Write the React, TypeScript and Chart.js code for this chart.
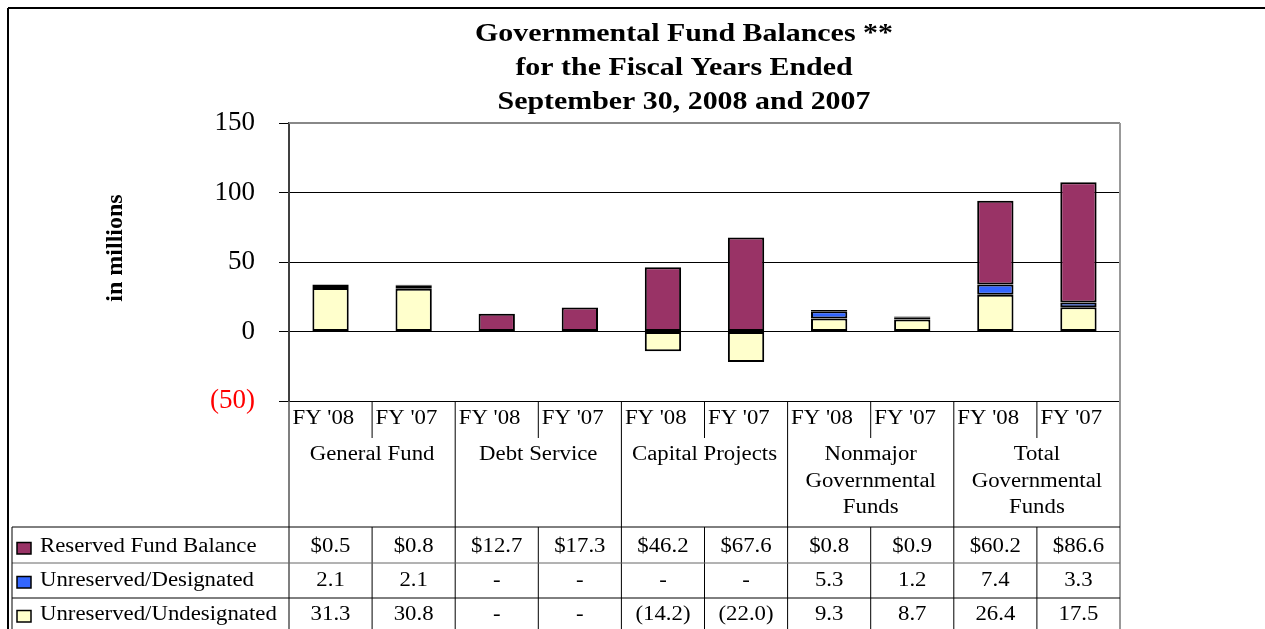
import React, { useEffect, useRef } from "react";
import { Chart, registerables } from "chart.js";

Chart.register(...registerables);

const TITLE_LINES = [
  "Governmental Fund Balances **",
  "for the Fiscal Years Ended",
  "September 30, 2008 and 2007",
];
const Y_TITLE = "in millions";
const YEARS = ["FY '08", "FY '07", "FY '08", "FY '07", "FY '08", "FY '07", "FY '08", "FY '07", "FY '08", "FY '07"];
const GROUPS = [
  ["General Fund"],
  ["Debt Service"],
  ["Capital Projects"],
  ["Nonmajor", "Governmental", "Funds"],
  ["Total", "Governmental", "Funds"],
];
const SERIES_NAMES = ["Reserved Fund Balance", "Unreserved/Designated", "Unreserved/Undesignated"];
const RESERVED = [0.5, 0.8, 12.7, 17.3, 46.2, 67.6, 0.8, 0.9, 60.2, 86.6];
const DESIGNATED = [2.1, 2.1, null, null, null, null, 5.3, 1.2, 7.4, 3.3];
const UNDESIGNATED = [31.3, 30.8, null, null, -14.2, -22.0, 9.3, 8.7, 26.4, 17.5];
const Y_MIN = -50;
const Y_MAX = 150;
const Y_STEP = 50;

const COLORS = ["#993366", "#3366FF", "#FFFFCC"];
const SERIF = '"Liberation Serif", "Times New Roman", serif';

function fmt(v: number | null, dollar: boolean): string {
  if (v === null || v === undefined) return "-";
  if (v < 0) return "(" + Math.abs(v).toFixed(1) + ")";
  return (dollar ? "$" : "") + v.toFixed(1);
}

function txt(
  ctx: CanvasRenderingContext2D,
  s: string,
  x: number,
  y: number,
  font: string,
  align: CanvasTextAlign,
  color = "#000",
  sx = 1.14
) {
  ctx.save();
  ctx.font = font;
  ctx.fillStyle = color;
  ctx.textAlign = align;
  ctx.textBaseline = "alphabetic";
  ctx.translate(x, y);
  ctx.scale(sx, 1);
  ctx.fillText(s, 0, 0);
  ctx.restore();
}

function line(ctx: CanvasRenderingContext2D, x1: number, y1: number, x2: number, y2: number, color = "#000", w = 1) {
  ctx.save();
  ctx.strokeStyle = color;
  ctx.lineWidth = w;
  ctx.beginPath();
  ctx.moveTo(x1, y1);
  ctx.lineTo(x2, y2);
  ctx.stroke();
  ctx.restore();
}

const decorPlugin = {
  id: "decor",
  beforeDraw(chart: any) {
    const ctx = chart.ctx as CanvasRenderingContext2D;
    ctx.save();
    ctx.fillStyle = "#fff";
    ctx.fillRect(0, 0, chart.width, chart.height);
    ctx.restore();
  },
  afterDraw(chart: any) {
    const ctx = chart.ctx as CanvasRenderingContext2D;
    const ca = chart.chartArea;
    const n = YEARS.length;
    const cw = (ca.right - ca.left) / n;
    const colX = (i: number) => ca.left + i * cw;
    const H = chart.height;

    // outer border
    line(ctx, 8, 8, chart.width, 8, "#000", 2);
    line(ctx, 8, 8, 8, H, "#000", 2);

    // title
    const tBase = [41, 75, 109];
    TITLE_LINES.forEach((s, i) => txt(ctx, s, 684, tBase[i], "bold 26px " + SERIF, "center", "#000", 1.15));

    // y title
    ctx.save();
    ctx.translate(122, 248);
    ctx.rotate(-Math.PI / 2);
    ctx.font = "bold 24px " + SERIF;
    ctx.fillStyle = "#000";
    ctx.textAlign = "center";
    ctx.textBaseline = "alphabetic";
    ctx.fillText(Y_TITLE, 0, 0);
    ctx.restore();

    // plot frame
    line(ctx, ca.left, ca.top, ca.right, ca.top, "#888", 2);
    line(ctx, ca.right, ca.top, ca.right, H, "#999", 2);

    const tableTop = 527;
    const rowLines = [527, 563, 598];
    const baselines = [552, 586, 620];

    // category area lines
    line(ctx, ca.left, ca.bottom, ca.left, H, "#555", 1.5);
    for (let k = 1; k < GROUPS.length; k++) {
      line(ctx, colX(2 * k), ca.bottom, colX(2 * k), H, "#000", 1);
    }
    for (let k = 0; k < GROUPS.length; k++) {
      const x = colX(2 * k + 1);
      line(ctx, x, ca.bottom, x, ca.bottom + 37, "#000", 1);
      line(ctx, x, tableTop, x, H, "#000", 1);
    }
    // table lines
    rowLines.forEach((y, i) => line(ctx, 12, y, ca.right, y, i === 1 ? "#666" : "#000", 1));
    line(ctx, 12, tableTop, 12, H, "#000", 1);

    // FY labels
    const f20 = "20px " + SERIF;
    YEARS.forEach((s, i) => txt(ctx, s, colX(i) + 3.5, 424, f20, "left"));
    // group labels
    GROUPS.forEach((g, k) => {
      const cx = colX(2 * k) + cw;
      g.forEach((s, j) => txt(ctx, s, cx, 460 + j * 26.5, f20, "center"));
    });

    // table rows
    const rows = [RESERVED, DESIGNATED, UNDESIGNATED];
    rows.forEach((vals, r) => {
      const b = baselines[r];
      ctx.save();
      ctx.fillStyle = COLORS[r];
      ctx.fillRect(17, b - 9.5, 14, 11.5);
      ctx.strokeStyle = "#000";
      ctx.lineWidth = 1.5;
      ctx.strokeRect(17, b - 9.5, 14, 11.5);
      ctx.restore();
      txt(ctx, SERIES_NAMES[r], 40, b, f20, "left");
      vals.forEach((v, i) => txt(ctx, fmt(v as number | null, r === 0), colX(i) + cw / 2, b, f20, "center"));
    });
  },
};

export default function App() {
  const ref = useRef<HTMLCanvasElement | null>(null);
  useEffect(() => {
    document.body.style.margin = "0";
    document.body.style.overflow = "hidden";
    const canvas = ref.current;
    if (!canvas) return;
    const chart = new Chart(canvas, {
      type: "bar",
      data: {
        labels: YEARS,
        datasets: [
          { label: SERIES_NAMES[2], data: UNDESIGNATED as any, backgroundColor: COLORS[2] },
          { label: SERIES_NAMES[1], data: DESIGNATED as any, backgroundColor: COLORS[1] },
          { label: SERIES_NAMES[0], data: RESERVED as any, backgroundColor: COLORS[0] },
        ].map((d) => ({
          ...d,
          borderColor: "#000",
          borderWidth: 2,
          borderSkipped: false,
          categoryPercentage: 1,
          barPercentage: 0.437,
        })),
      },
      options: {
        responsive: false,
        maintainAspectRatio: false,
        devicePixelRatio: 1,
        animation: false,
        layout: { padding: { left: 0, top: 123, right: 145, bottom: 228 } },
        plugins: {
          legend: { display: false },
          tooltip: { enabled: false },
          title: { display: false },
        },
        scales: {
          x: { stacked: true, display: false },
          y: {
            stacked: true,
            min: Y_MIN,
            max: Y_MAX,
            afterFit: (scale: any) => {
              scale.width = 289;
            },
            ticks: {
              stepSize: Y_STEP,
              padding: 24,
              font: { family: SERIF, size: 27 },
              color: (c: any) => (c.tick && c.tick.value < 0 ? "#FF0000" : "#000"),
              callback: (v: any) => (Number(v) < 0 ? "(" + Math.abs(Number(v)) + ")" : String(v)),
            },
            grid: {
              color: (c: any) => (c.tick && c.tick.value === Y_MAX ? "#888" : "#000"),
              tickColor: "#000",
              tickLength: 10,
              lineWidth: 1,
            },
            border: { display: true, color: "#404040", width: 2 },
          },
        },
      },
      plugins: [decorPlugin],
    } as any);
    return () => chart.destroy();
  }, []);
  return (
    <div style={{ position: "absolute", left: 0, top: 0, width: 1265, height: 629 }}>
      <canvas ref={ref} width={1265} height={629} style={{ display: "block" }} />
    </div>
  );
}
